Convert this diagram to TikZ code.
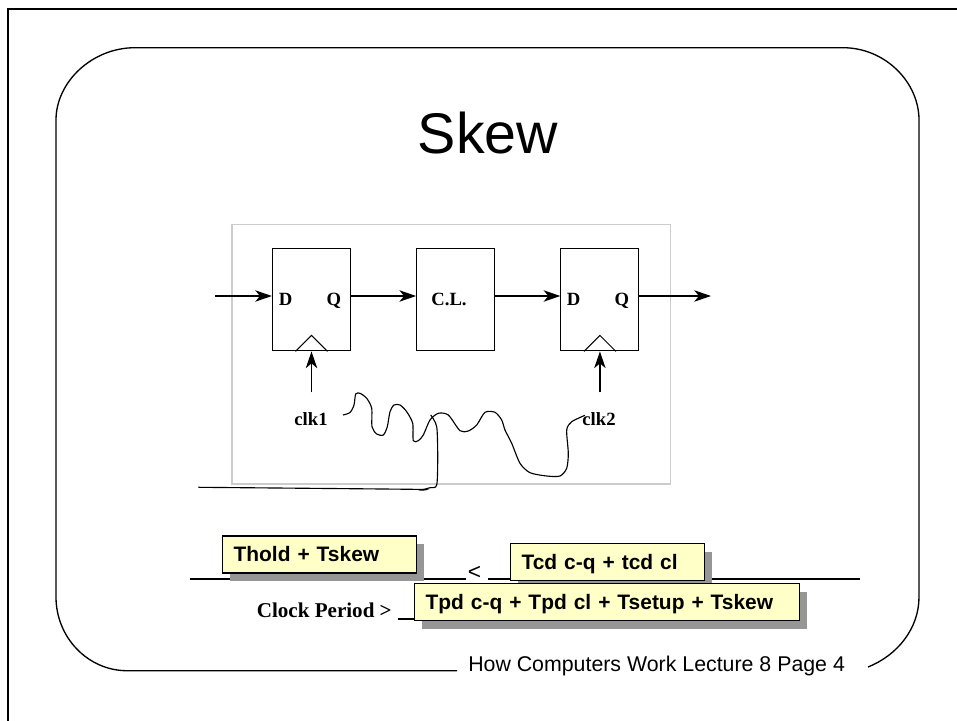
\documentclass[tikz,border=0pt]{standalone}
\usepackage{fontspec}
\setmainfont{Liberation Sans}
\newfontfamily\timesfont{Liberation Serif}
\usetikzlibrary{positioning,arrows.meta,shadows}
\definecolor{boxyellow}{HTML}{FFFFC8}
\definecolor{shadowgray}{HTML}{969696}
\definecolor{framegray}{HTML}{CCCCCC}
\begin{document}
\begin{tikzpicture}[x=0.75pt,y=-0.75pt]
\tikzstyle{block}=[draw,line width=0.85pt,inner sep=0pt,minimum width=58.5pt,minimum height=77pt];
\tikzstyle{sig}=[line width=1.4pt,-{Stealth[length=12.5pt,width=8.5pt,inset=3.5pt]}];
\tikzstyle{pin}=[font=\timesfont\bfseries\fontsize{14}{16}\selectfont,inner sep=0pt,anchor=base];
\tikzstyle{eqn}=[draw,line width=0.85pt,fill=boxyellow,anchor=west,inner xsep=8.25pt,inner ysep=0pt,
  align=left,minimum height=27.75pt,text height=14pt,text depth=2.8pt,
  font=\bfseries\fontsize{15.7}{18}\selectfont,
  drop shadow={shadow xshift=5.5pt,shadow yshift=-6pt,fill=shadowgray,opacity=1}];
\useasboundingbox (0,0) rectangle (957,721);
\draw[line width=1.6pt] (8,721) -- (8,9) -- (957,9);
\draw[line width=1pt] (457,670.7) -- (127,670.7)
  .. controls (88,670.7) and (56,637.5) .. (56,597) -- (56,120)
  .. controls (56,82) and (92,47.7) .. (135,47.7) -- (843,47.7)
  .. controls (885,47.7) and (919,82) .. (919,120) -- (919,597)
  .. controls (919,628) and (898,655) .. (868,667);
\node[inner sep=0pt,anchor=base,font=\fontsize{43}{46}\selectfont] (title) at (488,153) {Skew};
\node[inner sep=0pt,anchor=base west,font=\fontsize{16}{18}\selectfont] (footer) at (468,671) {How Computers Work Lecture 8 Page 4};
\draw[framegray,line width=0.8pt] (232,224.5) rectangle (670.5,484);
\node[block] (ff1) at (311.5,299.5) {};
\node[block,right=48.8pt of ff1] (cl) {};
\node[block,right=48.8pt of cl] (ff2) {};
\node[pin] (d1) at (285.5,305.5) {D};
\node[pin] (q1) at (334,305.5) {Q};
\node[pin] (cltext) at (449,305.5) {C.L.};
\node[pin] (d2) at (573.5,305.5) {D};
\node[pin] (q2) at (622,305.5) {Q};
\node[pin] (clk1) at (311,425) {clk1};
\node[pin] (clk2) at (599,425) {clk2};
\coordinate (datain) at (215,296);
\coordinate (dataout) at (711,296);
\coordinate (ck1) at ([yshift=-30.75pt]ff1.south);
\coordinate (ck2) at ([yshift=-30.75pt]ff2.south);
\draw[sig] (datain) -- (datain -| ff1.west);
\draw[sig] (datain -| ff1.east) -- (datain -| cl.west);
\draw[sig] (datain -| cl.east) -- (datain -| ff2.west);
\draw[sig] (datain -| ff2.east) -- (dataout);
\draw[sig] (ck1) -- (ff1.south);
\draw[sig] (ck2) -- (ff2.south);
\draw[line width=0.75pt] ([xshift=-12pt]ff1.south) -- ([yshift=12pt]ff1.south) -- ([xshift=12pt]ff1.south);
\draw[line width=0.75pt] ([xshift=-12pt]ff2.south) -- ([yshift=12pt]ff2.south) -- ([xshift=12pt]ff2.south);
\draw[line width=0.85pt] plot[smooth,tension=0.45] coordinates {
  (343,415) (350,412.5) (354,405) (355.7,394) (360,393.3) (366.7,398.3) (371.7,408.3) (372,426.7)
  (376.7,434) (383.3,435) (387.3,426.7) (390,411.7) (394,405) (400,405) (406.7,411.7) (412.7,423.3)
  (413.3,440.7) (418.3,440.7) (423.3,435) (430,420) (438.3,413.3) (448.3,415) (460,430.7) (468.3,431)
  (476.7,425) (485,412.3) (495,412.3) (501.7,420) (505,430) (511.7,443.3) (520,463.3) (530,472.7)
  (546.7,476) (560,476) (566.7,468.3) (568.3,453.3) (566.7,430) (571.7,421.7) (585,415.3)};
\draw[line width=0.85pt] plot[smooth,tension=0.45] coordinates {
  (430.7,415) (436.7,426.7) (437.7,456.7) (436.7,485) (430,487.7) (420,490) (411.7,489.3) (198.3,487.3)};
\draw[line width=0.85pt] (190,579) -- (466,579);
\draw[line width=0.85pt] (488,579) -- (860,579);
\node[inner sep=0pt,anchor=base,font=\fontsize{17}{19}\selectfont] (lessthan) at (474.5,579.6) {<};
\node[inner sep=0pt,anchor=base east,font=\timesfont\bfseries\fontsize{15.8}{18}\selectfont] (period) at (392,617) {Clock Period >};
\draw[line width=0.85pt] (398,619) -- (416,619);
\node[eqn,text width=129pt] (hold) at (222,554.5) {Thold + Tskew};
\node[eqn,text width=129pt] (mindelay) at (510,562) {Tcd c-q + tcd cl};
\node[eqn,text width=272pt] (maxdelay) at (414,602) {Tpd c-q + Tpd cl + Tsetup + Tskew};
\end{tikzpicture}
\end{document}
